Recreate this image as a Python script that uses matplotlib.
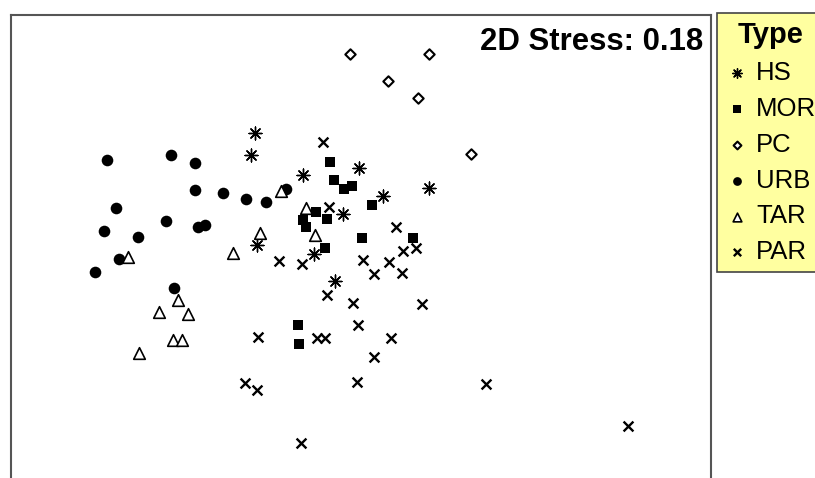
import matplotlib
matplotlib.use("Agg")
import matplotlib.pyplot as plt

plt.rcParams['font.family'] = ['Liberation Sans', 'DejaVu Sans']

# NMDS scores (screen units, y grows downward)
hs_x = [255, 251, 303, 359, 383, 429, 343, 257, 314, 335]
hs_y = [133, 155, 175, 168, 196, 188, 214, 245, 254, 281]
mor_x = [330, 334, 344, 352, 372, 316, 327, 303, 306, 362, 413, 325, 298, 299]
mor_y = [162, 180, 189, 186, 205, 212, 219, 220, 227, 238, 238, 248, 325, 344]
pc_x = [350, 429, 388, 418, 471]
pc_y = [54, 54, 81, 98, 154]
urb_x = [107, 171, 195, 195, 223, 246, 266, 286, 116, 166, 198, 205, 104, 138, 119, 95, 174]
urb_y = [160, 155, 163, 190, 193, 199, 202, 189, 208, 221, 227, 225, 231, 237, 259, 272, 288]
tar_x = [128, 233, 260, 281, 306, 315, 178, 159, 188, 173, 182, 139]
tar_y = [257, 253, 233, 191, 208, 235, 300, 312, 314, 340, 340, 353]
par_x = [323, 329, 396, 279, 302, 363, 374, 389, 402, 403, 416, 327, 353, 422,
         358, 258, 317, 325, 391, 374, 245, 257, 301, 357, 486, 628]
par_y = [142, 207, 227, 261, 264, 260, 274, 262, 273, 251, 248, 295, 303, 304,
         325, 337, 338, 338, 338, 357, 383, 390, 443, 382, 384, 426]

groups = ['HS', 'MOR', 'PC', 'URB', 'TAR', 'PAR']
stress = 0.18

fig = plt.figure(figsize=(8.15, 4.78), dpi=100)
W, H = 815, 478
ax = fig.add_axes([11 / W, -10 / H, 700 / W, 473 / H])
ax.set_xlim(11, 711)
ax.set_ylim(488, 15)
ax.set_xticks([])
ax.set_yticks([])
for s in ax.spines.values():
    s.set_color('#555555')
    s.set_linewidth(1.5)

h1 = ax.scatter(hs_x, hs_y, marker=(8, 2, 0), s=85, c='black', linewidths=1.0)
h2 = ax.scatter(mor_x, mor_y, marker='s', s=60, c='black', linewidths=0)
h3 = ax.scatter(pc_x, pc_y, marker='D', s=28, facecolors='white', edgecolors='black', linewidths=1.5)
h4 = ax.scatter(urb_x, urb_y, marker='o', s=70, c='black', linewidths=0)
h5 = ax.scatter(tar_x, tar_y, marker='^', s=70, facecolors='white', edgecolors='black', linewidths=1.2)
h6 = ax.scatter(par_x, par_y, marker='x', s=50, c='black', linewidths=1.7)

ax.text(703, 42, '2D Stress: %.2f' % stress, ha='right', va='center',
        fontsize=22.4, fontweight='bold')

leg = fig.legend([h1, h2, h3, h4, h5, h6], groups, loc='upper left',
                 bbox_to_anchor=(717 / W, 1 - 13 / H), borderaxespad=0,
                 title='Type', fontsize=18.5,
                 title_fontproperties={'weight': 'bold', 'size': 21},
                 frameon=True, fancybox=False, facecolor='#FFFFA0', edgecolor='#444444',
                 framealpha=1, handletextpad=0.25, labelspacing=0.46,
                 borderpad=0.32, handlelength=0.95, markerscale=0.75, alignment='center')
leg.get_frame().set_linewidth(1.2)

fig.savefig('out.png', dpi=100)
